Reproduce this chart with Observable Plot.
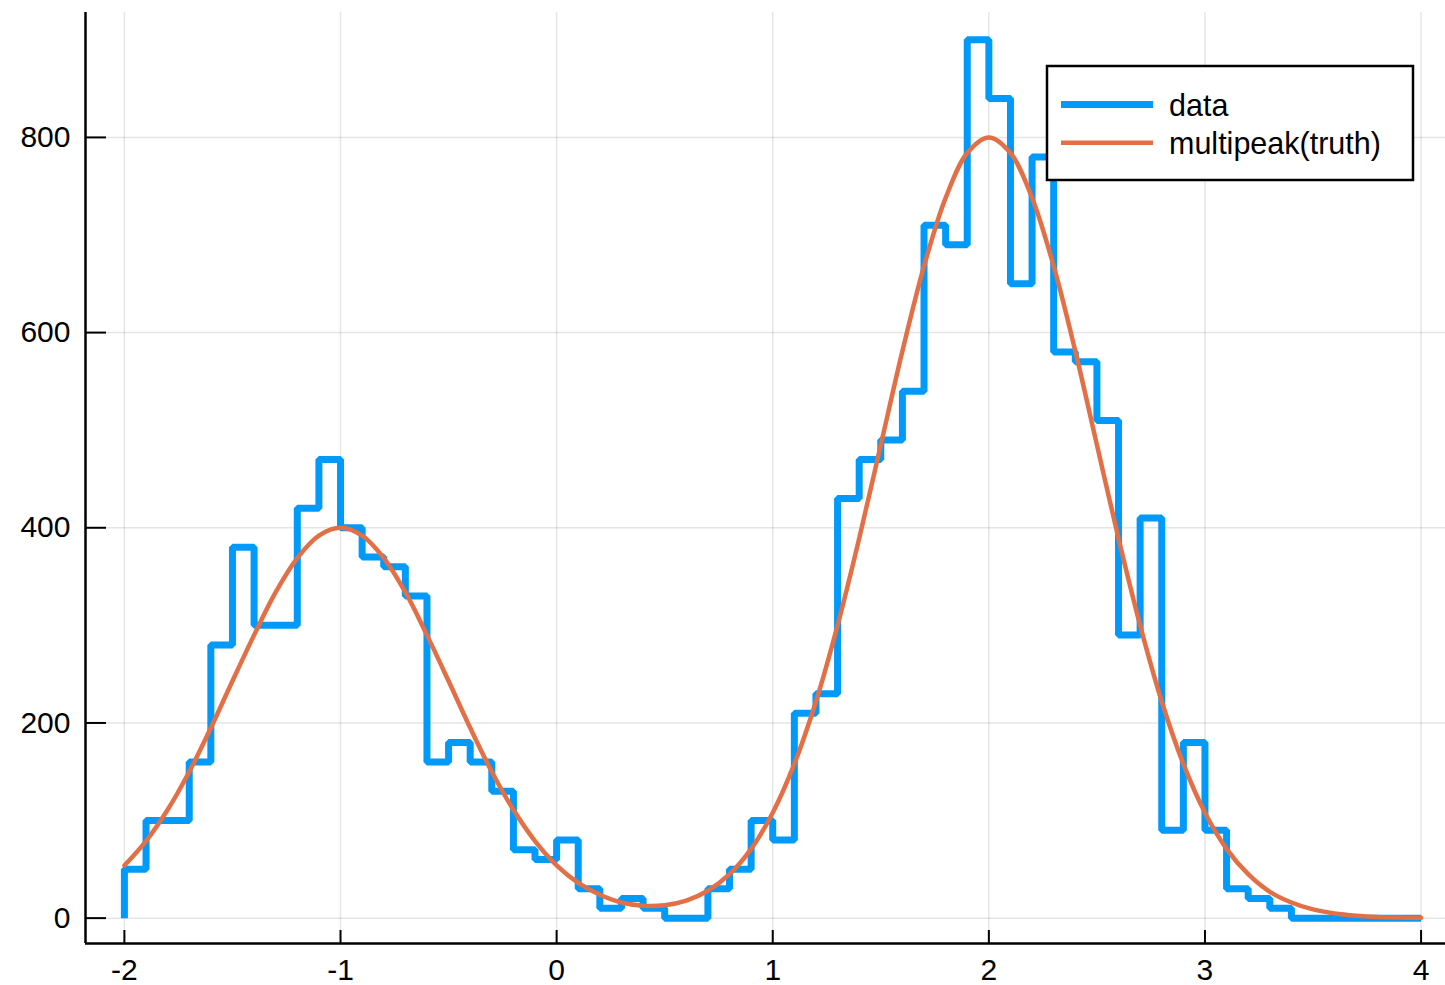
<!DOCTYPE html>
<html>
<head>
<meta charset="utf-8">
<script src="https://cdn.jsdelivr.net/npm/d3@7"></script>
<script src="https://cdn.jsdelivr.net/npm/@observablehq/plot@0.6"></script>
<style>
  html, body { margin: 0; padding: 0; background: #fff; }
  #chart { width: 1445px; height: 985px; }
</style>
</head>
<body>
<div id="chart"></div>
<script>
// ---- data ----
const binStart = -2;
const binWidth = 0.1;
// histogram counts, one per 0.1-wide bin from -2 to 4
const counts = [
  50, 100, 100, 160, 280, 380, 300, 300, 420, 470,   // -2.0 .. -1.1
  400, 370, 360, 330, 160, 180, 160, 130, 70, 60,    // -1.0 .. -0.1
  80, 30, 10, 20, 10, 0, 0, 30, 50, 100,             //  0.0 ..  0.9
  80, 210, 230, 430, 470, 490, 540, 710, 690, 900,   //  1.0 ..  1.9
  840, 650, 780, 580, 570, 510, 290, 410, 90, 180,   //  2.0 ..  2.9
  90, 30, 20, 10, 0, 0, 0, 0, 0, 0                   //  3.0 ..  3.9
];
// truth curve, sampled every 0.1 from -2 to 4
const curveStart = -2;
const curveStep = 0.1;
const truth = [
  54, 79, 111, 150, 195, 243, 290, 334, 369, 392,
  400, 392, 369, 334, 290, 243, 195, 150, 111, 79,
  54, 36, 24, 16, 12.7, 13.3, 18, 28, 45, 71,
  108, 158, 222, 300, 389, 485, 581, 668, 738, 784,
  800, 784, 738, 668, 581, 485, 389, 300, 222, 158,
  108, 71, 45, 27, 16, 8.9, 4.8, 2.5, 1.2, 0.6, 0.3
];
const xTicks = [-2, -1, 0, 1, 2, 3, 4];
const yTicks = [0, 200, 400, 600, 800];
const seriesNames = ["data", "multipeak(truth)"];
const seriesColors = ["#009AFA", "#E26F46"];

// ---- build tables ----
const histPts = [{x: binStart, y: 0}]
  .concat(counts.map((c, i) => ({x: binStart + i * binWidth, y: c})))
  .concat([{x: binStart + counts.length * binWidth, y: 0}]);
const curvePts = truth.map((v, i) => ({x: curveStart + i * curveStep, y: v}));

const xDomain = [-2.18, 4.113];
const yDomain = [-26, 928];
const font = "'Liberation Sans', Arial, Helvetica, sans-serif";

const plot = Plot.plot({
  width: 1445,
  height: 985,
  marginLeft: 85,
  marginRight: 0,
  marginTop: 12,
  marginBottom: 42,
  style: {fontFamily: font, fontSize: "30px", background: "#fff", color: "#000"},
  x: {domain: xDomain},
  y: {domain: yDomain},
  marks: [
    Plot.gridX(xTicks, {stroke: "#000", strokeOpacity: 0.1, strokeWidth: 1.5}),
    Plot.gridY(yTicks, {stroke: "#000", strokeOpacity: 0.1, strokeWidth: 1.5}),
    Plot.line(histPts, {x: "x", y: "y", curve: "step-after", stroke: seriesColors[0],
      strokeWidth: 7, strokeLinejoin: "miter", strokeLinecap: "butt"}),
    Plot.line(curvePts, {x: "x", y: "y", curve: "catmull-rom", stroke: seriesColors[1],
      strokeWidth: 4.5}),
    Plot.ruleX([xDomain[0]], {stroke: "#000", strokeWidth: 2.5}),
    Plot.ruleY([yDomain[0]], {stroke: "#000", strokeWidth: 2.5}),
    Plot.ruleY(yTicks, {x1: xDomain[0], x2: xDomain[0] + 21 / 216, stroke: "#000", strokeWidth: 2}),
    Plot.ruleX(xTicks, {y1: yDomain[0], y2: yDomain[0] + 13 / 0.976, stroke: "#000", strokeWidth: 2}),
    Plot.axisX(xTicks, {tickSize: 0, tickPadding: 15, fontSize: 30, label: null, tickFormat: d => String(d).replace("−", "-")}),
    Plot.axisY(yTicks, {tickSize: 0, tickPadding: 15, fontSize: 30, label: null})
  ]
});

// legend box drawn inside the svg
const svg = d3.select(plot);
const lg = svg.append("g").attr("class", "legend").attr("text-anchor", "start");
lg.append("rect").attr("x", 1047).attr("y", 66).attr("width", 366).attr("height", 114)
  .attr("fill", "#fff").attr("stroke", "#000").attr("stroke-width", 2.5);
const rows = [{y: 104.5, w: 7}, {y: 142.7, w: 4.5}];
seriesNames.forEach((name, i) => {
  lg.append("line").attr("x1", 1061).attr("x2", 1153).attr("y1", rows[i].y).attr("y2", rows[i].y)
    .attr("stroke", seriesColors[i]).attr("stroke-width", rows[i].w);
  lg.append("text").attr("x", 1169).attr("y", rows[i].y + 11)
    .attr("text-anchor", "start")
    .attr("font-family", font).attr("font-size", 30.5).attr("fill", "#000").text(name);
});

document.getElementById("chart").appendChild(plot);
</script>
</body>
</html>
